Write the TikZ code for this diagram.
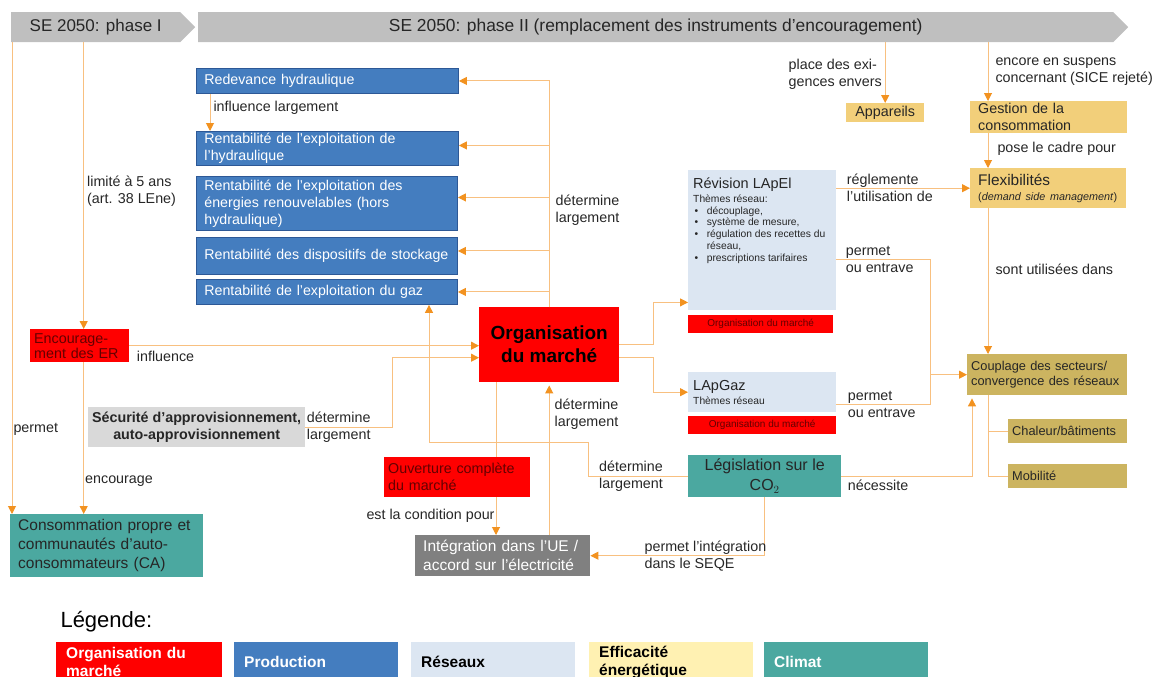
\documentclass[tikz,border=0pt]{standalone}
\usepackage{fontspec}
\setmainfont{Liberation Sans}
\usetikzlibrary{arrows.meta,shapes.symbols}

\definecolor{txt}{RGB}{38,38,38}
\definecolor{ln}{RGB}{248,192,128}
\definecolor{tipc}{RGB}{242,146,32}
\definecolor{bannerc}{RGB}{191,191,191}
\definecolor{mktc}{RGB}{255,0,0}
\definecolor{mktt}{RGB}{100,0,0}
\definecolor{prodc}{RGB}{68,125,191}
\definecolor{prodd}{RGB}{45,88,150}
\definecolor{netc}{RGB}{220,230,242}
\definecolor{effc}{RGB}{242,207,122}
\definecolor{effl}{RGB}{255,241,178}
\definecolor{cplc}{RGB}{204,180,96}
\definecolor{climc}{RGB}{75,168,160}
\definecolor{secc}{RGB}{217,217,217}
\definecolor{eugc}{RGB}{128,128,128}

\begin{document}
\begin{tikzpicture}[x=1pt, y=-1pt, every node/.style={font=\fontsize{14.3}{17}\selectfont, text=txt},
	arr/.style={draw=ln, line width=1pt, -{Triangle[length=8pt, width=8pt, color=tipc]}},
	lnk/.style={draw=ln, line width=1pt},
	lbl/.style={align=left, inner sep=1pt},
	box/.style={anchor=north west, inner xsep=8pt, inner ysep=0pt, align=left},
	banner/.style={signal, signal to=east, signal pointer angle=90, fill=bannerc, anchor=north west, minimum height=30pt, font=\fontsize{17}{20}\selectfont},
	prod/.style={box, fill=prodc, draw=prodd, line width=0.9pt, text=white, font=\fontsize{14.2}{17}\selectfont},
	mkt/.style={box, fill=mktc, text=mktt},
	netz/.style={box, fill=netc},
	eff/.style={box, fill=effc},
	cpl/.style={box, fill=cplc, inner xsep=4pt, font=\fontsize{12.8}{15.5}\selectfont},
	clim/.style={box, fill=climc},
	legbox/.style={box, minimum height=40pt, inner xsep=10pt, font=\bfseries\fontsize{15.5}{18}\selectfont}]

\useasboundingbox (0,0) rectangle (1154,677);

% phases
\node[banner, minimum width=184pt] (ph1) at (11,12) {SE 2050: phase I};
\node[banner, minimum width=930pt, font=\fontsize{17.4}{20}\selectfont] (ph2) at (198,12) {SE 2050: phase II (remplacement des instruments d’encouragement)};

% production
\node[prod, text width=246pt, minimum height=25pt] (redev) at (196,68) {Redevance hydraulique};
\node[prod, text width=246pt, minimum height=34pt] (rhyd) at (196,131) {Rentabilité de l’exploitation de\\l’hydraulique};
\node[prod, text width=245pt, minimum height=54pt] (renouv) at (196,176) {Rentabilité de l’exploitation des\\énergies renouvelables (hors\\hydraulique)};
\node[prod, text width=245pt, minimum height=37pt] (stock) at (196,237) {Rentabilité des dispositifs de stockage};
\node[prod, text width=245pt, minimum height=25pt] (gaz) at (196,279) {Rentabilité de l’exploitation du gaz};

% organisation du marche
\node[mkt, text width=91pt, inner xsep=4pt, minimum height=33pt, font=\fontsize{14.3}{15}\selectfont] (enc) at (30,329) {Encourage-\\ment des ER};
\node[mkt, minimum width=140pt, minimum height=75pt, align=center, text=black, font=\bfseries\fontsize{19}{23}\selectfont] (org) at (479,307) {Organisation\\du marché};
\node[mkt, text width=138pt, inner xsep=4pt, minimum height=40pt] (ouv) at (384,457) {Ouverture complète\\du marché};
\node[box, fill=secc, minimum width=217pt, minimum height=40pt, inner xsep=2pt, align=center, font=\bfseries\fontsize{14.3}{17.5}\selectfont] (sec) at (88,407) {Sécurité d’approvisionnement,\\auto-approvisionnement};
\node[box, fill=eugc, text=white, text width=159pt, minimum height=41pt, font=\fontsize{15.5}{19}\selectfont] (integ) at (415,535) {Intégration dans l’UE /\\accord sur l’électricité};

% climat
\node[clim, text width=177pt, minimum height=63pt, font=\fontsize{15.5}{19}\selectfont] (cons) at (10,514) {Consommation propre et\\communautés d’auto-\\consommateurs (CA)};
\node[clim, minimum width=153pt, minimum height=42pt, align=center, font=\fontsize{16}{20}\selectfont] (leg) at (688,455) {Législation sur le\\CO$_2$};

% reseaux
\node[netz, inner xsep=5pt, inner ysep=0pt] (rev) at (688,170) {\begin{minipage}[t][140pt][t]{138pt}
\vspace*{8pt}
{\fontsize{14.5}{16}\selectfont Révision LApEl\par}
\vspace{2pt}
{\fontsize{10.3}{11.7}\selectfont Thèmes réseau:\par
\begin{tabular}[t]{@{\hspace{1.5pt}}l@{\hspace{8.5pt}}l@{}}
\textbullet & découplage,\\
\textbullet & système de mesure,\\
\textbullet & régulation des recettes du\\
 & réseau,\\
\textbullet & prescriptions tarifaires
\end{tabular}\par}
\end{minipage}};
\node[mkt, minimum width=145pt, minimum height=18pt, inner sep=0pt, align=center, font=\fontsize{10}{12}\selectfont] (revorg) at (688,315) {Organisation du marché};
\node[netz, inner xsep=5pt, inner ysep=0pt] (gaslaw) at (688,372) {\begin{minipage}[t][40pt][t]{138pt}
\vspace*{8pt}
{\fontsize{14.5}{16}\selectfont LApGaz\par}
\vspace{2pt}
{\fontsize{10.3}{11.7}\selectfont Thèmes réseau\par}
\end{minipage}};
\node[mkt, minimum width=148pt, minimum height=18pt, inner sep=0pt, align=center, font=\fontsize{10}{12}\selectfont] (gasorg) at (688,416) {Organisation du marché};

% efficacite
\node[eff, minimum width=78pt, minimum height=19pt, inner xsep=2pt, align=center] (app) at (846,103) {Appareils};
\node[eff, text width=141pt, minimum height=32pt] (gest) at (970,101) {Gestion de la\\consommation};
\node[eff, text width=140pt, minimum height=40pt] (flex) at (970,168) {{\fontsize{15.4}{17}\selectfont Flexibilités}\\[-2pt]\mbox{\fontsize{10.8}{13}\selectfont (\textit{demand side management})}};
\node[cpl, text width=152pt, minimum height=41pt] (coup) at (967,354) {Couplage des secteurs/\\convergence des réseaux};
\node[cpl, text width=111pt, minimum height=24pt] (chal) at (1008,419) {Chaleur/bâtiments};
\node[cpl, text width=111pt, minimum height=24pt] (mob) at (1008,464) {Mobilité};

% connectors
\coordinate (encx) at ([xshift=4pt]enc.north);
\coordinate (ouvx) at ([xshift=17pt]org.south west);
\coordinate (xr) at (988,0);
\draw[arr] ([xshift=1pt]ph1.south west) -- ([xshift=1pt]ph1.south west |- cons.north) node[lbl, pos=0.82, anchor=west] {permet};
\draw[arr] (encx |- ph1.south) -- (encx) node[lbl, pos=0.52, anchor=west, xshift=2pt] {limité à 5 ans\\(art. 38 LEne)};
\draw[arr] (encx |- enc.south) -- (encx |- cons.north) node[lbl, pos=0.78, anchor=west] {encourage};
\draw[arr] (enc.east) node[lbl, anchor=north west, xshift=6pt, yshift=-4pt] {influence} -- (enc.east -| org.west);
\draw[arr] (sec.east) node[lbl, anchor=west] {détermine\\largement} -- ++(87,0) |- ([yshift=-13pt]org.west);
\draw[arr] (org.north) |- (redev.east);
\draw[arr] (org.north) |- ([yshift=3pt]rhyd.east);
\draw[arr] (org.north) |- ([yshift=6pt]renouv.east) node[lbl, pos=0.44, anchor=west, xshift=5pt] {détermine\\largement};
\draw[arr] (org.north) |- ([yshift=5pt]stock.east);
\draw[arr] (org.north) |- (gaz.east);
\draw[arr] ([xshift=14pt]redev.south west) -- ([xshift=14pt]redev.south west |- rhyd.north) node[lbl, midway, anchor=west, xshift=2pt, yshift=5pt] {influence largement};
\draw[arr] (leg.west) -- ++(-100,0) node[lbl, midway, xshift=-7pt] {détermine\\largement} -- ++(0,-34) -| ([xshift=233pt]gaz.south west);
\draw[lnk] (ouvx) -- (ouvx |- ouv.north);
\draw[arr] (ouvx |- ouv.south) -- (ouvx |- integ.north) node[lbl, midway, anchor=east] {est la condition pour};
\draw[arr] (org.south |- integ.north) -- ([yshift=-3pt]org.south) node[lbl, pos=0.81, anchor=west, xshift=4pt] {détermine\\largement};
\draw[arr] (leg.south) |- (integ.east) node[lbl, pos=0.67] {permet l’intégration\\dans le SEQE};
\draw[arr] (leg.east) node[lbl, anchor=north west, xshift=5pt, yshift=-2pt] {nécessite} -| ([xshift=5pt, yshift=-3pt]coup.south west);
\draw[arr] (org.east) -- ++(34,0) |- ([yshift=8pt]rev.south west);
\draw[arr] ([yshift=-13pt]org.east) -- ++(34,0) |- (gaslaw.west);
\draw[arr] (rev.east |- flex.west) -- (flex.west) node[lbl, pos=0.4] {réglemente\\l’utilisation de};
\draw[arr] ([yshift=-19pt]rev.east) node[lbl, anchor=west, xshift=8pt] {permet\\ou entrave} -- ++(94,0) |- (coup.west);
\draw[lnk] ([yshift=-12pt]gaslaw.east) node[lbl, anchor=west, xshift=10pt] {permet\\ou entrave} -| ([xshift=-37pt]coup.west);
\draw[arr] (app.north |- ph2.south) -- (app.north) node[lbl, pos=0.52, anchor=east, xshift=-2pt] {place des exi-\\gences envers};
\draw[arr] (xr |- ph2.south) -- (xr |- gest.north) node[lbl, midway, anchor=west, xshift=6pt] {encore en suspens\\concernant (SICE rejeté)};
\draw[arr] (xr |- gest.south) -- (xr |- flex.north) node[lbl, midway, anchor=west, xshift=8pt, yshift=2pt] {pose le cadre pour};
\draw[arr] (xr |- flex.south) -- (xr |- coup.north) node[lbl, pos=0.42, anchor=west, xshift=6pt] {sont utilisées dans};
\draw[lnk] (xr |- coup.south) |- (chal.west);
\draw[lnk] (xr |- coup.south) |- (mob.west);

% legende
\node[anchor=west, font=\fontsize{22}{26}\selectfont, text=black] (legtitle) at (57,622) {Légende:};
\node[legbox, fill=mktc, text=white, text width=146pt] (lmkt) at (56,642) {Organisation du\\marché};
\node[legbox, fill=prodc, text=white, text width=144pt] (lprod) at (234,642) {Production};
\node[legbox, fill=netc, text=black, text width=144pt] (lnet) at (411,642) {Réseaux};
\node[legbox, fill=effl, text=black, text width=144pt] (leff) at (589,642) {Efficacité\\énergétique};
\node[legbox, fill=climc, text=white, text width=144pt] (lclim) at (764,642) {Climat};
\end{tikzpicture}
\end{document}
